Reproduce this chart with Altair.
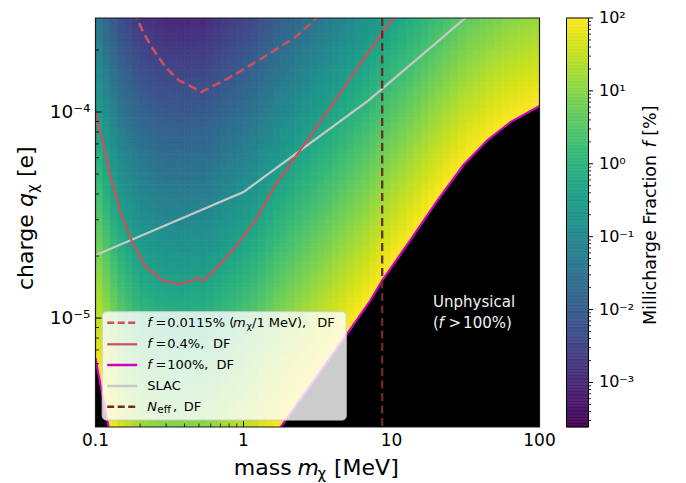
import altair as alt
import numpy as np
import pandas as pd

FONT = "DejaVu Sans"

# ---------------- values ----------------
# log10(f [%]) at q = 1e-4 e, one value per mass column (columns 0.05 decade wide, 0.1 -> 100 MeV)
heat_logf_q1e4 = [
    -0.54, -0.85, -1.15, -1.40, -1.58, -1.74, -1.87, -1.94, -1.99, -2.04,
    -2.06, -2.07, -2.05, -2.015, -2.035, -1.97, -1.885, -1.79, -1.72, -1.63,
    -1.545, -1.46, -1.336, -1.21, -1.089, -0.988, -0.887, -0.785, -0.684, -0.585,
    -0.486, -0.387, -0.288, -0.189, -0.09, 0.01, 0.11, 0.214, 0.33, 0.436,
    0.54, 0.645, 0.75, 0.857, 0.963, 1.07, 1.173, 1.27, 1.367, 1.464,
    1.543, 1.618, 1.692, 1.757, 1.814, 1.870, 1.920, 1.960, 2.000, 2.040,
]
heat_charge_power = -2.0  # f falls by two decades per decade of charge

# f = 0.4 % contour
c04_mass = [0.100, 0.113, 0.128, 0.1476, 0.178, 0.218, 0.284, 0.364, 0.425, 0.489,
            0.528, 0.618, 0.883, 1.205, 1.645, 2.70, 8.43, 11.3]
c04_charge = [1.00e-4, 6.92e-5, 4.68e-5, 3.24e-5, 2.31e-5, 1.77e-5, 1.53e-5, 1.46e-5, 1.50e-5, 1.56e-5,
              1.51e-5, 1.67e-5, 2.21e-5, 2.99e-5, 4.43e-5, 7.31e-5, 2.37e-4, 3.1e-4]
# f = 0.0115 % (m/1 MeV) contour
cdash_mass = [0.181, 0.186, 0.211, 0.247, 0.297, 0.364, 0.452, 0.520, 0.792, 1.343, 2.244, 3.31, 3.55]
cdash_charge = [3.1e-4, 2.97e-4, 2.42e-4, 2.0e-4, 1.65e-4, 1.43e-4, 1.32e-4, 1.25e-4, 1.46e-4, 1.83e-4,
                2.31e-4, 2.96e-4, 3.1e-4]
# f = 100 % contour (two branches)
b100_right_mass = [1.75, 5.05, 7.21, 8.69, 13.4, 20.5, 30.6, 44.6, 63.7, 100.0]
b100_right_charge = [2.90e-6, 8.45e-6, 1.22e-5, 1.53e-5, 2.39e-5, 3.74e-5, 5.53e-5, 7.31e-5, 8.94e-5, 1.07e-4]
b100_left_mass = [0.100, 0.108, 0.115, 0.1225, 0.124]
b100_left_charge = [6.4e-6, 4.73e-6, 3.78e-6, 2.96e-6, 2.85e-6]
# SLAC bound
slac_mass = [0.1, 1.0, 7.0, 36.0]
slac_charge = [2.02e-5, 4.09e-5, 1.14e-4, 3.1e-4]
# N_eff bound
neff_mass = [8.65]

x_major = [0.1, 1, 10, 100]
x_major_labels = ["0.1", "1", "10", "100"]
x_minor = [0.2, 0.3, 0.4, 0.5, 0.6, 0.7, 0.8, 0.9, 2, 3, 4, 5, 6, 7, 8, 9,
           20, 30, 40, 50, 60, 70, 80, 90]
y_major = [1e-5, 1e-4]
y_major_labels = ["10⁻⁵", "10⁻⁴"]
y_minor = [4e-6, 5e-6, 6e-6, 7e-6, 8e-6, 9e-6, 2e-5, 3e-5, 4e-5, 5e-5, 6e-5, 7e-5, 8e-5, 9e-5, 2e-4]
cb_major = [1e-3, 1e-2, 1e-1, 1, 10, 100]
cb_labels = ["10⁻³", "10⁻²", "10⁻¹", "10⁰", "10¹", "10²"]
cb_minor = [m * 10.0 ** k for k in range(-4, 2) for m in range(2, 10) if m * 10.0 ** k >= 2.5e-4]

RED = "#d24e5b"
MAGENTA = "#cc00cc"
GRAY = "#c8c8c8"
NEFF = "#6e2b20"

# ---------------- tables ----------------
m_edges = np.linspace(-1.0, 2.0, len(heat_logf_q1e4) + 1)
q_edges = np.linspace(-5.55, -3.50, 83)
recs = []
for i, g in enumerate(heat_logf_q1e4):
    for j in range(len(q_edges) - 1):
        qc = 0.5 * (q_edges[j] + q_edges[j + 1])
        recs.append(dict(m0=10 ** m_edges[i], m1=10 ** m_edges[i + 1],
                         q0=10 ** q_edges[j], q1=10 ** q_edges[j + 1],
                         f=10 ** (g + heat_charge_power * (qc + 4.0))))
heat_df = pd.DataFrame(recs)

bnd_df = pd.concat([
    pd.DataFrame({"m": b100_right_mass, "q": b100_right_charge, "part": "right"}),
    pd.DataFrame({"m": b100_left_mass, "q": b100_left_charge, "part": "left"}),
])
c04_df = pd.DataFrame({"m": c04_mass, "q": c04_charge, "o": range(len(c04_mass))})
cdash_df = pd.DataFrame({"m": cdash_mass, "q": cdash_charge, "o": range(len(cdash_mass))})
slac_df = pd.DataFrame({"m": slac_mass, "q": slac_charge, "o": range(len(slac_mass))})
neff_df = pd.DataFrame({"m": neff_mass})
dummy = pd.DataFrame({"_": [0]})

# layout (page pixels)
LEFT, TOP = 95, 18
W, H = 444, 409
CBW = 22
CB_LEFT = 567


def rx(px):
    return px - LEFT


def ry(py):
    return py - TOP


xs = alt.Scale(type="log", domain=[0.1, 100], nice=False)
ys = alt.Scale(type="log", domain=[2.96e-6, 2.86e-4], nice=False)
cs = alt.Scale(type="log", domain=[2.45e-4, 100], scheme="viridis", clamp=True)
cbs = alt.Scale(type="log", domain=[2.45e-4, 100], nice=False)


def X(field):
    return alt.X(field, scale=xs, axis=None)


def Y(field):
    return alt.Y(field, scale=ys, axis=None)


def txt(s, x, y, size=13.0, italic=False, color="black", angle=None, baseline="middle"):
    kw = dict(align="left", baseline=baseline, fontSize=size, font=FONT, color=color)
    if italic:
        kw["fontStyle"] = "italic"
    if angle is not None:
        kw["angle"] = angle
    return alt.Chart(dummy).mark_text(**kw).encode(
        x=alt.value(x), y=alt.value(y), text=alt.value(s))


# ---------------- main panel ----------------
heat = alt.Chart(heat_df).mark_rect(clip=True, strokeWidth=0.8).encode(
    x=X("m0:Q"), x2="m1:Q", y=Y("q0:Q"), y2="q1:Q",
    color=alt.Color("f:Q", scale=cs, legend=None),
    stroke=alt.Stroke("f:Q", scale=cs, legend=None),
)

black = alt.Chart(bnd_df).mark_area(color="black", clip=True).encode(
    x=X("m:Q"), y=Y("q:Q"), y2=alt.datum(1e-6), detail="part:N")
mag = alt.Chart(bnd_df).mark_line(color=MAGENTA, strokeWidth=2.2, clip=True).encode(
    x=X("m:Q"), y=Y("q:Q"), detail="part:N")
slac = alt.Chart(slac_df).mark_line(color=GRAY, strokeWidth=2.2, clip=True).encode(
    x=X("m:Q"), y=Y("q:Q"), order="o:Q")
c04 = alt.Chart(c04_df).mark_line(color=RED, strokeWidth=2.2, clip=True).encode(
    x=X("m:Q"), y=Y("q:Q"), order="o:Q")
cdash = alt.Chart(cdash_df).mark_line(color=RED, strokeWidth=2.5, strokeDash=[9, 4.5], clip=True).encode(
    x=X("m:Q"), y=Y("q:Q"), order="o:Q")
neff = alt.Chart(neff_df).mark_rule(color=NEFF, strokeWidth=2.3, strokeDash=[8, 4.5]).encode(x=X("m:Q"))

unphys_df = pd.DataFrame({"m": [19.1], "q1": [1.197e-5], "q2": [9.46e-6]})
un_layers = [alt.Chart(unphys_df).mark_text(
    align="left", baseline="middle", fontSize=15, font=FONT, color="#f2f2f2").encode(
    x=X("m:Q"), y=Y("q1:Q"), text=alt.value("Unphysical"))]
for s, dx, it in [("(", 0, False), ("f", 5.5, True), (">", 15.5, False), ("100%)", 30, False)]:
    kw = dict(align="left", baseline="middle", fontSize=15, font=FONT, color="#f2f2f2", dx=dx)
    if it:
        kw["fontStyle"] = "italic"
    un_layers.append(alt.Chart(unphys_df).mark_text(**kw).encode(
        x=X("m:Q"), y=Y("q2:Q"), text=alt.value(s)))

# legend box
leg = [alt.Chart(dummy).mark_rect(fill="white", fillOpacity=0.8, stroke="#cccccc", strokeWidth=1,
                                  cornerRadius=4).encode(
    x=alt.value(rx(101.7)), x2=alt.value(rx(345.7)), y=alt.value(ry(311.7)), y2=alt.value(ry(420)))]
rows_y = [ry(v) for v in (322.7, 344.3, 365.0, 386.0, 406.7)]
samples = [(RED, [7, 3.5], 2.5), (RED, None, 2.2), (MAGENTA, None, 2.5), (GRAY, None, 2.5), (NEFF, [7, 3.5], 2.5)]
for yy, (col, dash, sw) in zip(rows_y, samples):
    kw = dict(color=col, strokeWidth=sw)
    if dash:
        kw["strokeDash"] = dash
    leg.append(alt.Chart(dummy).mark_rule(**kw).encode(
        x=alt.value(rx(106.7)), x2=alt.value(rx(136.7)), y=alt.value(yy)))
pieces = [
    (0, "f", 146.7, 0, 13, True), (0, "=", 155, 0, 13, False), (0, "0.0115% (", 166.7, 0, 13, False),
    (0, "m", 232.5, 0, 13, True), (0, "χ", 246.0, 3.5, 9.5, False), (0, "/1 MeV),", 251.5, 0, 13, False),
    (0, "DF", 316.7, 0, 13, False),
    (1, "f", 146.7, 0, 13, True), (1, "=", 155, 0, 13, False), (1, "0.4%,", 166.7, 0, 13, False),
    (1, "DF", 212.5, 0, 13, False),
    (2, "f", 146.7, 0, 13, True), (2, "=", 155, 0, 13, False), (2, "100%,", 166.7, 0, 13, False),
    (2, "DF", 216, 0, 13, False),
    (3, "SLAC", 146.7, 0, 13, False),
    (4, "N", 146.7, 0, 13, True), (4, "eff", 156.8, 3.5, 10.5, False), (4, ",", 172.5, 0, 13, False),
    (4, "DF", 183.3, 0, 13, False),
]
for r, s, px, dy, size, it in pieces:
    leg.append(txt(s, rx(px), rows_y[r] + dy, size=size, italic=it))

# inward ticks
xt_major = alt.Chart(pd.DataFrame({"m": x_major})).mark_rule(color="black", strokeWidth=1).encode(
    x=X("m:Q"), y=alt.value(H), y2=alt.value(H - 6))
xt_minor = alt.Chart(pd.DataFrame({"m": x_minor})).mark_rule(color="black", strokeWidth=0.8).encode(
    x=X("m:Q"), y=alt.value(H), y2=alt.value(H - 3.5))
yt_major = alt.Chart(pd.DataFrame({"q": y_major})).mark_rule(color="black", strokeWidth=1).encode(
    y=Y("q:Q"), x=alt.value(0), x2=alt.value(6))
yt_minor = alt.Chart(pd.DataFrame({"q": y_minor})).mark_rule(color="black", strokeWidth=0.8).encode(
    y=Y("q:Q"), x=alt.value(0), x2=alt.value(3.5))
frame = alt.Chart(dummy).mark_rect(fillOpacity=0, stroke="#1a1a1a", strokeWidth=1.2).encode(
    x=alt.value(0), x2=alt.value(W), y=alt.value(0), y2=alt.value(H))

# tick labels
xl = alt.Chart(pd.DataFrame({"m": x_major, "t": x_major_labels})).mark_text(
    align="center", baseline="middle", fontSize=17, font=FONT, color="black").encode(
    x=X("m:Q"), y=alt.value(ry(441)), text="t:N")
yl = alt.Chart(pd.DataFrame({"q": y_major, "t": y_major_labels})).mark_text(
    align="right", baseline="middle", fontSize=18.5, font=FONT, color="black").encode(
    y=Y("q:Q"), x=alt.value(-5), text="t:N")

# axis titles (composed so that the symbols can be italic / subscript)
titles = [
    txt("mass", rx(233.3), ry(474.5), size=22, baseline="alphabetic"),
    txt("m", rx(297), ry(474.5), size=22, italic=True, baseline="alphabetic"),
    txt("χ", rx(317), ry(479.0), size=15, baseline="alphabetic"),
    txt("[MeV]", rx(333.5), ry(474.5), size=22, baseline="alphabetic"),
    txt("charge", rx(32.5), ry(290), size=22, angle=270, baseline="alphabetic"),
    txt("q", rx(32.5), ry(207), size=22, italic=True, angle=270, baseline="alphabetic"),
    txt("χ", rx(37), ry(193), size=15, angle=270, baseline="alphabetic"),
    txt("[e]", rx(32.5), ry(177), size=22, angle=270, baseline="alphabetic"),
]

main = alt.layer(
    heat, black, slac, c04, cdash, mag, neff, *un_layers, *leg,
    xt_major, xt_minor, yt_major, yt_minor, frame, xl, yl, *titles,
).properties(width=W, height=H)

# ---------------- colour bar ----------------
cb_edges = np.linspace(np.log10(2.45e-4), 2.0, 282)
cb_df = pd.DataFrame({"v0": 10 ** cb_edges[:-1], "v1": 10 ** cb_edges[1:],
                      "vm": 10 ** (0.5 * (cb_edges[:-1] + cb_edges[1:]))})
cb_rect = alt.Chart(cb_df).mark_rect(strokeWidth=0.6).encode(
    x=alt.value(0), x2=alt.value(CBW),
    y=alt.Y("v0:Q", scale=cbs, axis=None), y2="v1:Q",
    color=alt.Color("vm:Q", scale=cs, legend=None),
    stroke=alt.Stroke("vm:Q", scale=cs, legend=None),
)
cb_maj = alt.Chart(pd.DataFrame({"v": cb_major})).mark_rule(color="black", strokeWidth=1).encode(
    y=alt.Y("v:Q", scale=cbs, axis=None), x=alt.value(CBW), x2=alt.value(CBW + 4.5))
cb_min = alt.Chart(pd.DataFrame({"v": cb_minor})).mark_rule(color="black", strokeWidth=0.8).encode(
    y=alt.Y("v:Q", scale=cbs, axis=None), x=alt.value(CBW), x2=alt.value(CBW + 2.5))
cb_lab = alt.Chart(pd.DataFrame({"v": cb_major, "t": cb_labels})).mark_text(
    align="left", baseline="middle", fontSize=16, font=FONT, color="black").encode(
    y=alt.Y("v:Q", scale=cbs, axis=None), x=alt.value(CBW + 10.5), text="t:N")
cb_frame = alt.Chart(dummy).mark_rect(fillOpacity=0, stroke="black", strokeWidth=1).encode(
    x=alt.value(0), x2=alt.value(CBW), y=alt.value(0), y2=alt.value(H))
cb_titles = [
    txt("Millicharge Fraction", 656 - CB_LEFT, ry(325), size=17.5, angle=270, baseline="alphabetic"),
    txt("f", 656 - CB_LEFT, ry(147.6), size=17.5, italic=True, angle=270, baseline="alphabetic"),
    txt("[%]", 656 - CB_LEFT, ry(135.8), size=17.5, angle=270, baseline="alphabetic"),
]
cbar = alt.layer(cb_rect, cb_maj, cb_min, cb_lab, cb_frame, *cb_titles).properties(width=CBW, height=H)

chart = alt.hconcat(main, cbar, spacing=9).properties(
    padding={"left": 6.5, "top": 2, "right": 5, "bottom": 5}
).configure_view(stroke=None)

chart.save("out.html", embed_options={"renderer": "svg", "actions": False})
